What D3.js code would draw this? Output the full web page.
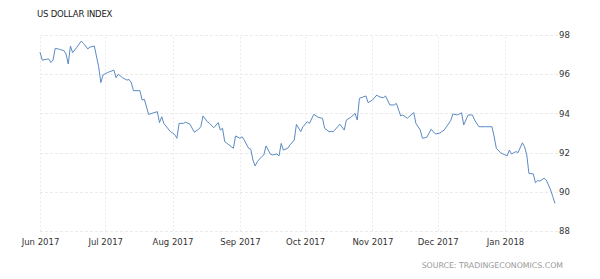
<!DOCTYPE html>
<html lang="en">
<head>
<meta charset="UTF-8">
<title>US Dollar Index</title>
<script src="https://cdn.jsdelivr.net/npm/d3@7"></script>
<style>
html,body {margin:0;padding:0;background:#fff;}
#chart {width:600px;height:279px;}
.grid line {stroke:#ebebeb;stroke-width:1;shape-rendering:crispEdges;}
.grid .domain {display:none;}
.axis text {font-family:"DejaVu Sans",sans-serif;font-size:8.5px;fill:#333;}
.axis .domain, .axis line {display:none;}
</style>
</head>
<body>
<div id="chart"></div>
<script>
// dollar index, daily closes
const dates = [
	"2017-06-01","2017-06-02","2017-06-04","2017-06-05","2017-06-06","2017-06-07","2017-06-08","2017-06-10",
	"2017-06-12","2017-06-13","2017-06-14","2017-06-15","2017-06-16","2017-06-18","2017-06-20","2017-06-21",
	"2017-06-23","2017-06-24","2017-06-26","2017-06-28","2017-06-29","2017-06-30","2017-07-02","2017-07-05",
	"2017-07-06","2017-07-07","2017-07-09","2017-07-11","2017-07-12","2017-07-13","2017-07-14","2017-07-17",
	"2017-07-18","2017-07-19","2017-07-21","2017-07-25","2017-07-26","2017-07-27","2017-07-28","2017-07-31",
	"2017-08-01","2017-08-02","2017-08-03","2017-08-04","2017-08-06","2017-08-07","2017-08-09","2017-08-11",
	"2017-08-13","2017-08-14","2017-08-15","2017-08-17","2017-08-18","2017-08-20","2017-08-22","2017-08-23",
	"2017-08-24","2017-08-25","2017-08-27","2017-08-29","2017-08-30","2017-09-01","2017-09-02","2017-09-03",
	"2017-09-05","2017-09-06","2017-09-07","2017-09-08","2017-09-09","2017-09-11","2017-09-12","2017-09-13",
	"2017-09-15","2017-09-16","2017-09-18","2017-09-19","2017-09-20","2017-09-21","2017-09-23","2017-09-24",
	"2017-09-26","2017-09-27","2017-09-29","2017-09-30","2017-10-02","2017-10-03","2017-10-05","2017-10-07",
	"2017-10-09","2017-10-10","2017-10-12","2017-10-14","2017-10-16","2017-10-17","2017-10-19","2017-10-20",
	"2017-10-22","2017-10-24","2017-10-25","2017-10-26","2017-10-29","2017-10-30","2017-11-01","2017-11-03",
	"2017-11-04","2017-11-06","2017-11-07","2017-11-09","2017-11-11","2017-11-12","2017-11-14","2017-11-15",
	"2017-11-17","2017-11-20","2017-11-21","2017-11-23","2017-11-24","2017-11-26","2017-11-28","2017-11-30",
	"2017-12-02","2017-12-04","2017-12-07","2017-12-08","2017-12-10","2017-12-12","2017-12-13","2017-12-15",
	"2017-12-17","2017-12-18","2017-12-20","2017-12-23","2017-12-26","2017-12-27","2017-12-28","2017-12-30",
	"2018-01-02","2018-01-03","2018-01-04","2018-01-06","2018-01-07","2018-01-09","2018-01-10","2018-01-11",
	"2018-01-12","2018-01-14","2018-01-15","2018-01-16","2018-01-17","2018-01-19","2018-01-20","2018-01-21",
	"2018-01-22","2018-01-23","2018-01-24"
];
const values = [
	97.13,96.72,96.76,96.78,96.60,96.72,97.32,97.27,
	97.20,97.03,96.52,97.44,97.10,97.38,97.69,97.57,
	97.29,97.38,97.44,96.38,95.57,95.96,96.08,96.21,
	95.82,96.00,95.82,95.70,95.73,95.57,95.16,95.16,
	94.68,94.72,93.95,94.09,93.53,93.83,93.49,93.07,
	93.00,92.92,92.73,93.49,93.49,93.55,93.45,93.04,
	93.19,93.32,93.87,93.58,93.49,93.27,93.53,93.15,
	93.24,92.56,92.39,92.22,92.85,92.73,92.81,92.64,
	92.22,92.17,91.62,91.32,91.54,91.79,91.88,92.34,
	91.93,91.88,91.93,91.83,92.47,92.13,92.22,92.39,
	92.64,93.44,93.07,93.32,93.58,93.49,93.95,93.80,
	93.75,93.24,93.07,93.07,93.32,93.45,93.15,93.66,
	93.80,94.00,93.66,94.77,94.89,94.55,94.68,94.94,
	94.85,94.80,94.89,94.43,94.43,94.51,93.87,93.92,
	93.75,94.04,93.49,93.15,92.73,92.78,93.19,92.95,
	93.00,93.15,93.63,93.97,93.92,94.03,93.41,93.92,
	93.92,93.66,93.32,93.32,93.32,92.81,92.22,91.99,
	91.83,92.13,91.93,92.05,92.00,92.50,92.30,91.88,
	90.94,90.91,90.46,90.57,90.55,90.69,90.60,90.35,
	90.09,89.75,89.41
];
const yTicks = [88, 90, 92, 94, 96, 98];
const monthTicks = ["2017-06-01","2017-07-01","2017-08-01","2017-09-01","2017-10-01","2017-11-01","2017-12-01","2018-01-01"];
const title = "US DOLLAR INDEX";
const source = "SOURCE: TRADINGECONOMICS.COM";

const W = 600, H = 279;
const m = {top:35, right:45, bottom:48, left:40};
const parse = d3.timeParse("%Y-%m-%d");
const data = dates.map((d, i) => ({date: parse(d), value: values[i]}));

const svg = d3.select("#chart").append("svg")
	.attr("width", W)
	.attr("height", H);

const x = d3.scaleTime()
	.domain([parse("2017-06-01"), parse("2018-01-24")])
	.range([m.left, W - m.right]);
const y = d3.scaleLinear()
	.domain([88, 98])
	.range([H - m.bottom, m.top]);

// vertical month grid
svg.append("g")
	.attr("class", "grid")
	.attr("transform", "translate(0," + (H - m.bottom) + ")")
	.call(d3.axisBottom(x).tickValues(monthTicks.map(parse)).tickSize(-(H - m.top - m.bottom)).tickFormat(""))
	.selectAll("line").attr("stroke-dasharray", "2,2");

// horizontal grid
svg.append("g")
	.attr("class", "grid")
	.attr("transform", "translate(" + m.left + ",0)")
	.call(d3.axisLeft(y).tickValues(yTicks).tickSize(-(W - m.left - m.right + 3)).tickFormat(""))
	.selectAll("line").attr("stroke-dasharray", "3,2");

// x labels
svg.append("g")
	.attr("class", "axis")
	.attr("transform", "translate(0," + (H - m.bottom) + ")")
	.call(d3.axisBottom(x).tickValues(monthTicks.map(parse)).tickSize(0).tickPadding(8).tickFormat(d3.timeFormat("%b %Y")));

// y labels
svg.append("g")
	.attr("class", "axis")
	.attr("transform", "translate(" + (W - m.right + 2) + ",0)")
	.call(d3.axisRight(y).tickValues(yTicks).tickSize(0).tickPadding(2));

const line = d3.line()
	.x(d => x(d.date))
	.y(d => y(d.value));

svg.append("path")
	.datum(data)
	.attr("fill", "none")
	.attr("stroke", "#5b8ac4")
	.attr("stroke-width", 1)
	.attr("stroke-linejoin", "round")
	.attr("d", line);

svg.append("text")
	.attr("x", 37)
	.attr("y", 17)
	.attr("font-family", "DejaVu Sans, sans-serif")
	.attr("font-size", "8.5px")
	.attr("letter-spacing", "-0.2px")
	.attr("fill", "#222")
	.text(title);

svg.append("text")
	.attr("x", 563)
	.attr("y", 268)
	.attr("text-anchor", "end")
	.attr("font-family", "DejaVu Sans, sans-serif")
	.attr("font-size", "7.8px")
	.attr("letter-spacing", "0px")
	.attr("fill", "#999")
	.text(source);
</script>
</body>
</html>
